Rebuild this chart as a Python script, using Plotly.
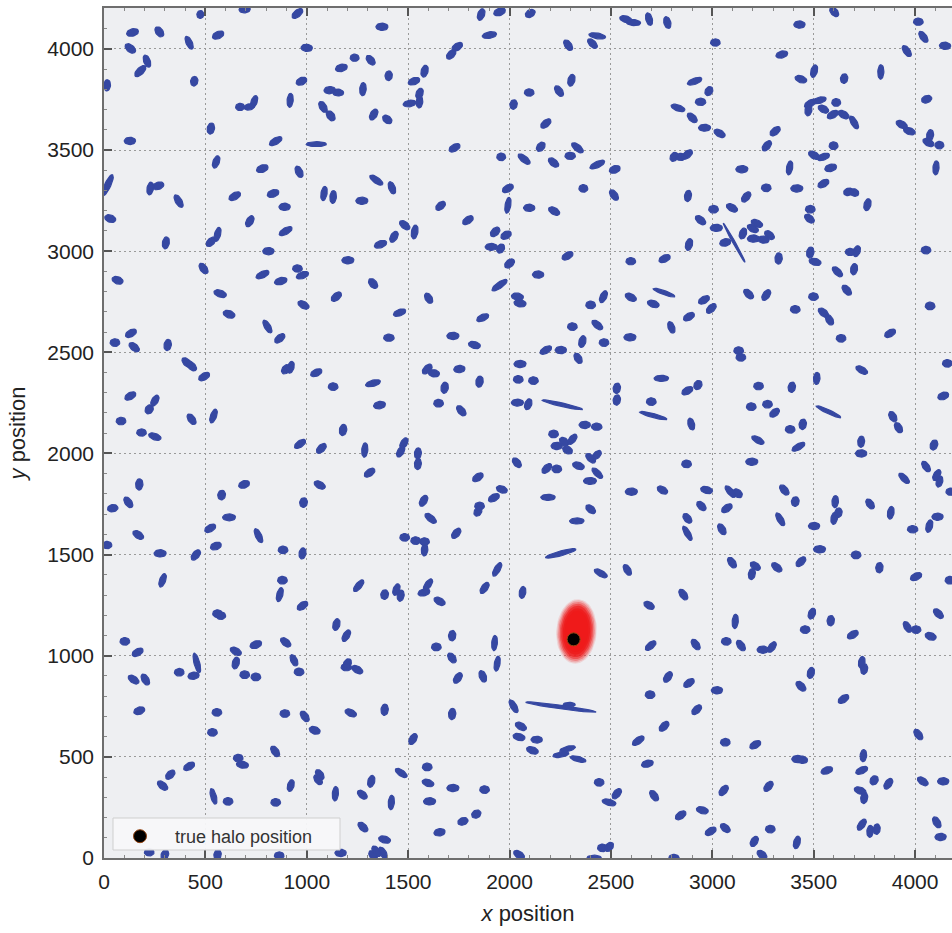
import numpy as np
import plotly.graph_objects as go

# ---------------- galaxy data (one sub-list per picture region) ----------------
gal_x = [
 [475,141,273,420,563,694,954,130,212,179,445,15,1000,974,671,716,740,918,527,128,847,18,228,268,368,553,781,962,645,834,891,31,719,896,305,560,527,811,491,67,782,872,954,979,573],
 [1371,1860,1951,1901,1742,1712,1236,1315,1171,1404,1581,1529,1113,1154,1277,1556,1507,1556,1080,1118,1330,1397,1047,1729,1959,1343,1420,1085,1130,1272,1660,1992,1992,1795,1483,1532,1430,1364,1929,1983,1910,1956,1203,1327,2000,1951],
 [2102,2289,2433,2409,2573,2611,2688,2778,2305,2097,2244,2020,2179,2913,2983,2942,2831,2901,2962,2154,2335,2299,2072,2217,2433,2519,2811,2844,2877,2364,2515,2097,2220,2880,2885,2286,2141,2598,2765,2942],
 [3015,3430,3601,3343,4016,4041,4148,3959,3437,3502,3650,3831,3483,3529,3474,3548,3611,3594,3647,3699,4057,3934,3972,4074,4066,4120,3036,3310,3269,3598,3502,3548,3146,3381,3584,3548,3266,3417,3167,3671,3699,3765,4103,3006,3097,3020,3108,3064,3220,3200,3151,3203,3253,3282,3327,3483,3479,3483,3507,3680,3712,3699,3617,4054,3663],
 [984,617,806,867,133,54,149,314,409,432,494,897,921,130,251,223,84,432,540,185,251,967,174,120,43,169,15,277,453,691,580,984,617,524,762,552,883,979],
 [1146,1458,1405,1601,1868,1721,1827,1047,1130,1327,1359,1179,1072,1286,1463,1479,1548,1548,1594,1627,1753,1852,1680,1650,1762,1310,1064,1844,1962,1923,1576,1852,1844,1611,1737,1483,1537,1581,1581,1939],
 [2039,2052,2463,2400,2310,2433,2359,2466,2179,2253,2338,2598,2762,2709,2885,2959,2995,2798,2594,2052,2043,2118,2039,2092,2261,2371,2430,2217,2233,2269,2310,2286,2400,2430,2036,2184,2233,2340,2433,2397,2749,2529,2529,2699,2877,2929,2709,2896,2873,2601,2754,2972,2946,2190,2400,2332,2877,2877,2253,2450,2581],
 [3179,3266,3409,3499,3548,3578,3635,3877,4074,3130,3141,3737,3515,3228,3392,3192,3272,3307,3573,4159,4139,3890,3918,3384,3446,3225,3425,3734,3734,4093,3195,4054,4107,4120,4176,3089,3125,3072,3355,3409,3335,3047,3502,3606,3601,3622,3778,3880,3946,3988,4070,4111,3529,3709,3824,3097,3212,3195,3318,3437,4005],
 [289,880,867,979,560,576,103,166,458,371,442,146,204,174,650,650,749,694,749,896,937,962,557,892,990,535,662,683,844,420,327,289,540,612,847,921,223,300,560,864],
 [1256,1384,1442,1463,1598,1578,1655,1877,1146,1195,1639,1717,1926,1939,1716,1745,1868,1200,1195,1249,1217,1384,1717,1039,1524,1064,1056,1141,1318,1274,1417,1466,1277,1384,1343,1376,1327,1167,1594,1598,1721,1877,1606,1836,1770,1655],
 [2064,2688,2857,2696,2918,2781,2885,2693,2923,2762,2635,2020,2253,2294,2056,2047,2134,2113,2286,2253,2338,2680,2442,2529,2491,2713,2844,2951,2992,2047,2458,2491,2417,2811],
 [4172,3113,3069,3141,3249,3294,3491,3458,3584,3693,3962,4005,4115,4077,3737,3749,3486,3437,3023,3647,4016,3064,3212,3420,3442,3745,3565,3737,3798,3868,3729,3749,4038,4139,3056,3277,3737,3778,3811,3064,3286,3207,3417,3245,4107,4126],
]
gal_y = [
 [4170,4081,4084,4030,4068,4196,4175,4002,3939,3890,3840,3820,4005,3840,3713,3713,3738,3746,3606,3545,3544,3326,3310,3323,3247,3441,3408,3392,3272,3285,3219,3161,3148,3099,3041,3083,3046,3000,2914,2856,2884,2852,2914,2881,2790],
 [4109,4170,4183,4068,4010,3972,3956,3944,3906,3867,3890,3840,3796,3784,3801,3779,3730,3738,3713,3669,3675,3651,3529,3511,3466,3351,3313,3285,3268,3249,3224,3310,3227,3153,3128,3095,3071,3034,3095,3079,3021,3013,2955,2840,2939,2832],
 [4175,4018,4064,4026,4147,4130,4147,4130,3845,3784,3791,3725,3631,3840,3791,3738,3708,3659,3610,3516,3511,3471,3455,3438,3428,3404,3466,3466,3478,3310,3277,3214,3198,3273,3033,2977,2884,2950,2963,3153],
 [4031,4120,4183,3972,4134,4059,4015,3989,3850,3890,3853,3886,3730,3746,3697,3702,3735,3675,3675,3636,3751,3626,3593,3573,3537,3524,3582,3593,3521,3521,3474,3466,3405,3412,3412,3334,3313,3310,3268,3293,3290,3230,3412,3207,3214,3115,3041,3043,3137,3112,3087,3062,3057,3079,2964,3207,3161,2993,2947,2996,3000,2911,2898,3005,2807],
 [2734,2688,2627,2569,2594,2548,2525,2536,2449,2432,2380,2416,2426,2284,2261,2218,2160,2169,2185,2103,2083,2047,1847,1758,1729,1597,1547,1506,1498,1847,1794,1757,1684,1630,1593,1542,1523,1506],
 [2775,2696,2572,2767,2671,2581,2536,2399,2330,2347,2239,2116,2025,2017,2009,2050,2000,1948,2417,2396,2417,2355,2325,2248,2211,1905,1844,1882,1822,1781,1766,1740,1712,1679,1605,1585,1569,1564,1523,1427],
 [2775,2742,2775,2734,2627,2635,2553,2548,2511,2511,2470,2772,2795,2739,2676,2759,2717,2623,2574,2442,2366,2360,2251,2243,2240,2141,2132,2096,2037,2058,2070,2017,1976,1992,1954,1926,1923,1939,1902,1864,2371,2322,2264,2256,2310,2338,2187,2145,1948,1811,1819,1819,1740,1783,1724,1666,1679,1605,1506,1407,1424],
 [2788,2783,2712,2775,2696,2660,2569,2594,2729,2508,2475,2412,2371,2333,2327,2231,2243,2201,2206,2445,2284,2182,2127,2119,2144,2066,2033,2058,2000,2042,1959,1935,1893,1861,1811,1811,1803,1729,1819,1762,1674,1625,1641,1762,1679,1707,1750,1707,1877,1625,1641,1687,1526,1498,1435,1460,1443,1404,1437,1465,1391],
 [1373,1373,1302,1247,1208,1198,1071,1017,964,918,901,882,882,728,1022,964,1055,906,895,1066,977,920,720,714,700,621,494,461,527,453,412,358,305,280,275,358,28,16,16,12],
 [1346,1302,1327,1297,1351,1313,1269,1335,1154,1099,1043,1099,1063,961,989,890,898,961,943,931,717,733,712,631,588,412,387,318,379,313,275,420,153,91,33,25,12,25,450,371,346,338,280,217,181,127],
 [1313,1249,1302,1050,1055,895,865,807,733,651,580,750,746,758,651,598,585,532,539,511,489,466,374,318,275,308,211,236,132,16,50,55,0,0],
 [1373,1170,1071,1050,1030,1043,1208,1129,1173,1104,1142,1129,1208,1096,967,934,915,849,829,786,610,572,560,489,486,506,433,433,384,367,333,297,379,379,334,354,165,132,143,148,143,82,77,16,176,104],
]
# semi-major axis (data units)
gal_a = [
 [20,30,28,35,30,28,32,30,32,35,24,28,28,28,22,26,33,35,28,28,35,58,32,28,35,32,30,30,32,30,28,28,30,36,30,36,28,28,30,28,35,32,24,32,32],
 [30,30,30,36,30,28,22,28,30,24,30,30,28,28,33,28,32,30,30,28,30,26,50,30,22,38,32,36,32,30,28,30,40,30,30,35,30,32,28,28,30,24,30,28,28,45],
 [26,30,42,30,30,36,32,30,30,24,30,24,30,38,24,26,36,30,30,26,35,26,36,30,40,28,24,24,30,22,30,28,30,28,30,30,28,24,30,30],
 [24,28,28,30,24,32,28,32,30,32,24,36,32,34,28,28,22,30,30,36,26,30,30,28,30,22,30,30,30,22,30,32,30,35,30,30,24,30,30,24,24,30,35,24,30,30,110,28,30,30,28,30,28,28,28,24,28,28,30,24,28,28,32,24,30],
 [30,30,36,30,30,24,30,28,30,30,30,26,30,30,30,24,24,30,36,24,32,32,28,30,26,30,24,30,30,28,24,24,32,30,38,28,24,28],
 [30,32,26,28,32,30,30,30,24,38,30,28,30,36,30,30,28,28,30,28,28,28,28,24,30,30,30,30,28,30,30,24,24,34,30,24,24,24,30,38],
 [30,30,32,24,24,32,30,24,32,28,28,30,57,30,30,30,30,30,30,30,24,24,30,28,103,28,26,24,28,26,30,26,30,28,28,30,24,30,34,32,36,26,26,24,30,24,70,30,24,30,28,30,28,36,28,36,28,40,78,36,30],
 [30,30,24,24,30,28,24,30,24,24,24,32,30,24,26,24,24,28,67,24,28,28,28,24,26,34,36,28,28,26,30,30,30,28,24,36,26,30,30,24,36,30,28,30,30,24,28,32,34,26,32,28,30,24,26,30,28,28,30,30,30],
 [35,24,36,30,24,24,24,30,50,24,28,30,30,28,30,30,30,24,24,30,30,24,24,24,30,24,24,30,30,30,28,30,40,24,24,30,24,26,26,24],
 [36,24,30,28,34,30,30,32,30,32,24,26,38,38,28,30,30,26,26,30,30,28,28,28,30,28,28,36,30,28,36,34,30,30,30,32,28,28,24,30,30,24,30,24,26,28],
 [30,28,30,32,30,30,30,24,30,30,34,36,176,30,30,30,28,30,40,40,40,30,24,30,35,30,30,30,30,30,24,26,36,26],
 [24,36,24,30,28,30,28,24,26,30,30,24,30,28,30,26,28,30,28,30,30,24,30,28,28,30,30,32,24,30,30,28,30,28,30,30,32,30,26,28,24,28,32,28,30,28],
]
# semi-minor axis (data units)
gal_b = [
 [17,18,18,15,18,18,17,18,16,17,18,17,18,18,18,15,15,15,18,18,16,15,16,18,16,16,18,17,17,18,18,18,17,16,17,15,17,18,17,18,16,17,18,16,17],
 [18,17,18,16,17,17,18,17,18,18,17,17,18,17,16,17,16,16,17,18,17,18,12,17,19,15,16,15,16,18,17,17,14,17,17,16,17,17,18,18,17,18,18,18,18,15],
 [18,17,14,16,16,15,16,17,17,18,17,18,17,15,18,18,15,17,17,18,16,18,16,17,15,18,18,18,17,19,17,18,17,17,17,17,18,18,17,17],
 [18,18,17,17,18,16,18,16,17,16,18,15,16,15,17,17,19,17,17,15,18,17,17,17,17,19,17,17,17,19,17,16,18,15,18,17,19,18,17,18,18,17,15,19,17,18,6,18,17,17,17,18,18,17,18,19,17,18,17,18,17,17,16,19,17],
 [17,18,15,17,17,19,17,18,17,17,17,18,16,17,16,19,19,17,15,18,16,16,18,17,18,17,18,18,17,18,19,19,17,17,15,18,19,17],
 [17,16,18,17,16,18,17,17,19,15,18,18,17,15,16,16,17,17,17,18,18,18,18,19,17,17,17,17,17,17,17,19,18,16,17,19,19,19,16,15],
 [18,18,16,19,19,16,17,19,16,18,17,17,10,17,17,17,17,16,18,18,19,19,17,17,9,18,18,19,18,18,16,18,16,16,17,17,19,17,15,17,15,18,18,19,17,19,10,16,19,18,17,17,17,15,17,15,17,14,12,15,16],
 [17,17,19,19,17,17,19,17,19,19,19,16,16,19,18,19,19,17,10,19,18,17,17,19,18,15,15,17,18,18,18,16,16,16,18,15,18,17,17,19,15,17,18,16,16,18,17,16,15,18,16,18,18,19,18,17,17,17,17,17,17],
 [15,19,15,17,19,19,19,17,14,19,18,17,17,18,17,17,18,19,19,17,16,19,19,19,17,19,19,17,17,17,17,17,14,19,19,16,18,18,18,18],
 [15,19,16,17,15,17,17,16,17,16,19,18,14,14,17,17,17,18,18,17,17,18,18,18,17,17,17,15,17,17,15,15,17,17,17,16,17,18,19,17,18,19,18,19,18,18],
 [16,17,17,16,17,17,17,19,17,17,16,15,9,12,17,17,17,17,13,13,13,17,19,17,15,17,17,17,17,17,19,18,14,18],
 [19,15,19,17,18,16,17,19,18,17,16,19,17,18,16,17,17,17,18,17,17,19,17,18,18,16,17,16,19,17,17,17,17,18,17,17,16,16,17,17,19,17,16,17,17,18],
]
# orientation of the major axis (degrees from the x axis)
gal_t = [
 [80,15,-55,-65,25,5,40,-40,-70,45,80,85,-5,25,0,10,70,85,80,0,30,65,80,20,-60,70,20,-65,30,20,0,-20,60,30,80,75,45,0,-55,-20,25,15,0,20,-20],
 [0,70,20,10,35,45,0,-50,15,85,75,20,5,-5,85,70,10,85,-60,-55,60,-40,0,30,0,-35,-70,80,85,0,40,30,80,35,-40,80,60,20,45,30,0,60,0,-50,40,35],
 [30,-55,-10,-45,-15,-5,-75,-75,75,0,-55,80,40,20,60,0,-20,-45,0,50,-40,0,-40,-40,25,20,60,0,40,0,-55,0,-30,80,75,30,0,0,25,-40],
 [0,0,-50,15,0,-55,-5,-55,-20,75,80,88,30,15,80,-30,0,30,-30,-60,20,-30,-20,80,-30,0,-30,40,50,0,-30,20,0,80,15,30,0,0,50,20,-20,75,85,0,-30,0,-61,15,-25,-30,70,0,-5,-40,85,0,-40,80,-15,0,70,80,-45,0,-50],
 [-30,-20,-60,40,30,0,-40,80,-45,-45,30,50,75,30,60,60,0,-55,70,0,-20,35,85,-55,10,-35,0,0,50,20,80,80,0,30,-65,20,0,80],
 [40,20,0,-60,25,0,-15,25,0,15,10,80,45,85,60,60,85,85,45,-10,5,80,80,0,-50,35,-30,35,-20,30,60,0,60,-40,50,0,0,0,85,60],
 [-10,-10,65,0,0,-40,75,0,30,0,-60,-30,-20,-20,30,30,45,-70,0,0,0,0,0,70,-13,0,0,0,0,-40,50,-30,-45,45,-50,45,0,-20,-45,0,0,80,80,0,30,60,-15,-75,0,0,-30,-15,-45,0,-40,0,-50,-60,15,-30,-60],
 [-45,55,0,0,-40,-60,0,30,0,0,0,-30,85,0,80,0,0,40,-25,0,20,-60,-60,0,80,-30,30,85,0,70,0,-55,60,75,0,-50,-40,35,-50,80,-60,-60,0,85,80,80,-55,80,-45,0,75,0,0,0,85,-55,-35,80,-40,45,25],
 [70,0,75,35,0,0,0,30,-75,0,10,-35,-60,20,-30,75,20,0,0,-40,-65,0,0,0,-55,0,0,-10,-55,30,45,-40,-75,0,0,75,0,70,80,0],
 [50,80,70,80,55,15,-30,55,75,60,0,85,85,80,-55,55,-70,60,0,-30,-25,85,85,-20,60,-55,-55,85,75,-40,85,-35,-45,-15,-55,-60,-55,0,0,-20,0,0,0,30,20,10],
 [80,-30,-55,40,-55,55,35,0,45,45,35,-60,-8,0,-30,-15,0,-20,15,10,-15,15,0,50,-15,-55,35,-15,30,-35,0,50,0,0],
 [0,85,0,-55,0,55,70,0,85,30,-60,0,-45,-20,80,80,75,-45,0,35,-55,0,30,0,-10,85,20,25,60,55,-20,80,-35,0,50,50,55,85,85,-40,0,60,75,-40,-60,0],
]

# posterior samples of the halo position, summarised as nested density layers
post_cx, post_cy, post_angle = 2330, 1120, 86
post_ry = [100, 95, 89, 82, 75, 67, 58]
post_rx = [160, 154, 146, 137, 127, 115, 102]
post_alpha = [0.12, 0.2, 0.3, 0.45, 0.62, 0.8, 0.95]

# true halo position
halo_x = [2316]
halo_y = [1081]

x_ticks = [0, 500, 1000, 1500, 2000, 2500, 3000, 3500, 4000]
y_ticks = [0, 500, 1000, 1500, 2000, 2500, 3000, 3500, 4000]
x_range = [0, 4182]
y_range = [0, 4202]

# ---------------- build ----------------
for L in (gal_y, gal_a, gal_b, gal_t):
    for r, (u, v) in enumerate(zip(gal_x, L)):
        assert len(u) == len(v), (r, len(u), len(v))

def flat(L):
    return [v for sub in L for v in sub]

gx, gy, ga, gb, gt = map(flat, (gal_x, gal_y, gal_a, gal_b, gal_t))

def ellipse(xc, yc, a, b, t, n=30):
    th = np.radians(t)
    s = np.linspace(0, 2 * np.pi, n)
    ex = xc + a * np.cos(s) * np.cos(th) - b * np.sin(s) * np.sin(th)
    ey = yc + a * np.cos(s) * np.sin(th) + b * np.sin(s) * np.cos(th)
    return ex, ey

px, py = [], []
for xc, yc, a, b, t in zip(gx, gy, ga, gb, gt):
    ex, ey = ellipse(xc, yc, a, b, t)
    px.extend(ex.tolist() + [None])
    py.extend(ey.tolist() + [None])

BLUE = "rgb(54,72,162)"
fig = go.Figure()
fig.add_trace(go.Scatter(
    x=px, y=py, mode="lines", fill="toself", line=dict(width=1.2, color=BLUE),
    fillcolor=BLUE, hoverinfo="skip", showlegend=False))

for rx, ry, al in zip(post_rx, post_ry, post_alpha):
    ex, ey = ellipse(post_cx, post_cy, rx, ry, post_angle, n=60)
    fig.add_trace(go.Scatter(
        x=ex, y=ey, mode="lines", fill="toself", line=dict(width=0),
        fillcolor=f"rgba(238,26,26,{al})", hoverinfo="skip", showlegend=False))

fig.add_trace(go.Scatter(
    x=halo_x, y=halo_y, mode="markers", name="true halo position",
    marker=dict(color="black", size=13, line=dict(color="rgb(150,70,20)", width=1))))

W, H = 952, 933
ml, mr, mt, mb = 104, 0, 8, 75
pw, ph = W - ml - mr, H - mt - mb

def pxx(p):  # pixel -> paper x
    return (p - ml) / pw

def pxy(p):  # pixel -> paper y
    return (H - mb - p) / ph

axis_common = dict(
    showline=True, linecolor="#6e6e6e", linewidth=1.5,
    ticks="inside", ticklen=8, tickwidth=1.5, tickcolor="#555",
    showgrid=True, gridcolor="#9a9a9a", gridwidth=1, griddash="2px,3px",
    zeroline=False, tickfont=dict(size=21, color="#222"),
    minor=dict(ticks="inside", ticklen=3, tickwidth=1, tickcolor="#888", dtick=100, showgrid=False),
)

fig.update_layout(
    width=W, height=H,
    margin=dict(l=ml, r=mr, t=mt, b=mb, autoexpand=False),
    paper_bgcolor="white", plot_bgcolor="#EEEFF2",
    font=dict(family="Liberation Sans, Arial, sans-serif", color="#222"),
    xaxis=dict(range=x_range, tickvals=x_ticks, mirror="allticks",
               title=dict(text="<i>x</i> position", font=dict(size=22), standoff=14),
               ticklabelstandoff=4, **axis_common),
    yaxis=dict(range=y_range, tickvals=y_ticks,
               title=dict(text="<i>y</i> position", font=dict(size=22), standoff=16),
               ticklabelstandoff=4, **axis_common),
    showlegend=True,
    legend=dict(x=pxx(105), y=pxy(818), xanchor="left", yanchor="top",
                bgcolor="rgba(0,0,0,0)", borderwidth=0, itemwidth=60,
                font=dict(size=18, color="#333")),
    shapes=[dict(type="rect", xref="paper", yref="paper",
                 x0=pxx(113), x1=pxx(340), y0=pxy(850), y1=pxy(818),
                 fillcolor="rgba(247,247,249,0.95)", line=dict(color="#cfcfcf", width=1),
                 layer="above")],
)

fig.write_html("out.html", config={"displayModeBar": False})
